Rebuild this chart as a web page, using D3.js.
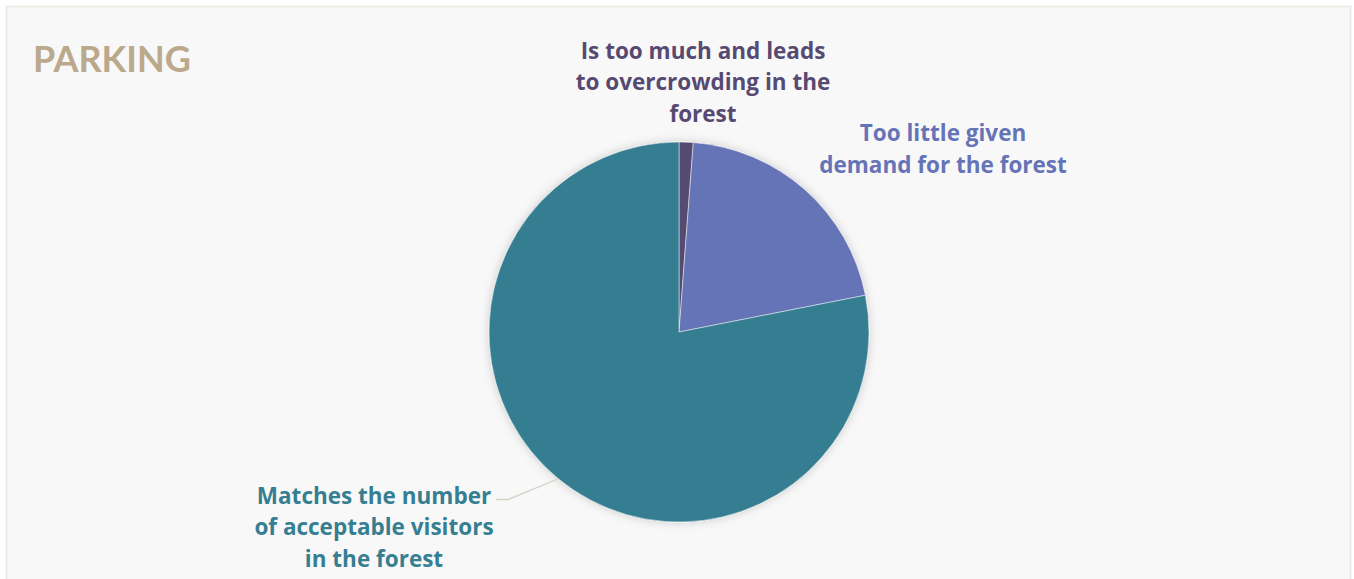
<!DOCTYPE html>
<html>
<head>
<meta charset="utf-8">
<script src="https://cdn.jsdelivr.net/npm/d3@7"></script>
<style>
  html, body { margin: 0; padding: 0; background: #ffffff; }
  text { font-family: "Open Sans", Lato, sans-serif; font-weight: bold; }
</style>
</head>
<body>
<script>
var categories = ['Is too much and leads to overcrowding in the forest', 'Too little given demand for the forest', 'Matches the number of acceptable visitors in the forest'];
var values = [1.2, 20.7, 78.1];
var colors = ['#574a72', '#6573b7', '#367e91'];
// label lines, wrapped the way the picture shows them
var labelLines = [
  ['Is too much and leads', 'to overcrowding in the', 'forest'],
  ['Too little given', 'demand for the forest'],
  ['Matches the number', 'of acceptable visitors', 'in the forest']
];
var labelPos = [[703, 58.5], [943, 141], [374, 503.5]];

var width = 1354, height = 579;
var cx = 679, cy = 332, r = 190;

var svg = d3.select('body').append('svg').attr('width', width).attr('height', height);

var defs = svg.append('defs');
var f = defs.append('filter').attr('id', 'shadow').attr('x', '-20%').attr('y', '-20%').attr('width', '140%').attr('height', '140%');
f.append('feDropShadow').attr('dx', 0).attr('dy', 0).attr('stdDeviation', 5).attr('flood-color', '#000').attr('flood-opacity', 0.18);

svg.append('rect').attr('x', 6.5).attr('y', 6.5).attr('width', 1344).attr('height', 600)
  .attr('fill', '#f8f8f8').attr('stroke', '#ebe8e0').attr('stroke-width', 1.5);

svg.append('text').attr('x', 33).attr('y', 72).attr('font-size', 36)
  .style('font-family', 'Lato, sans-serif').attr('fill', '#bba98c').text('PARKING');

var pie = d3.pie().sort(null).value(function (d) { return d; });
var arc = d3.arc().innerRadius(0).outerRadius(r);
var arcs = pie(values);

var g = svg.append('g').attr('transform', 'translate(' + cx + ',' + cy + ')');
g.append('g').attr('filter', 'url(#shadow)').selectAll('path').data(arcs).enter().append('path')
  .attr('d', arc)
  .attr('fill', function (d, i) { return colors[i]; })
  .attr('stroke', '#f8f8f8').attr('stroke-width', 0.5);

// leader line for the big slice
var a = 3.83; // point on the rim where the line touches (radians from top)
var px = cx + Math.sin(a) * r, py = cy - Math.cos(a) * r;
svg.append('polyline')
  .attr('points', [[496, 499.5], [508, 499.5], [px, py]].map(function (p) { return p.join(','); }).join(' '))
  .attr('fill', 'none').attr('stroke', '#d6d0c2').attr('stroke-width', 1.3);

labelLines.forEach(function (lines, i) {
  var t = svg.append('text').attr('text-anchor', 'middle').attr('font-size', 22.5).attr('fill', colors[i]);
  lines.forEach(function (s, j) {
    t.append('tspan').attr('x', labelPos[i][0]).attr('y', labelPos[i][1] + j * 31.5).text(s);
  });
});
</script>
</body>
</html>
